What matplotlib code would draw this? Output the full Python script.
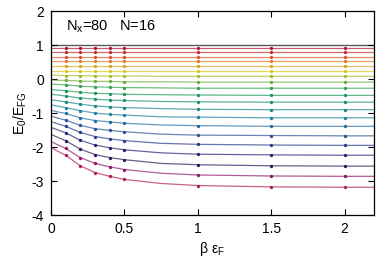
import numpy as np
import matplotlib
matplotlib.use('Agg')
import matplotlib.pyplot as plt

plt.rcParams['font.family'] = ['Liberation Sans', 'DejaVu Sans']
plt.rcParams['axes.unicode_minus'] = False

# fitted curves sampled at fit_x, one row per N_up (top to bottom)
fit_x = [0, 0.05, 0.1, 0.2, 0.3, 0.4, 0.5, 0.75, 1, 1.5, 2, 2.2]
beta = [0.1, 0.2, 0.3, 0.4, 0.5, 1, 1.5, 2]

E0 = [
    [0.90] * 12,
    [0.79] * 12,
    [0.66] * 12,
    [0.52] * 12,
    [0.38] * 12,
    [0.24] * 12,
    [0.11, 0.11, 0.10, 0.10, 0.09, 0.09, 0.09, 0.08, 0.08, 0.08, 0.08, 0.08],
    [-0.03, -0.04, -0.04, -0.06, -0.07, -0.07, -0.08, -0.08, -0.09, -0.09, -0.09, -0.09],
    [-0.15, -0.16, -0.17, -0.21, -0.23, -0.24, -0.25, -0.26, -0.27, -0.27, -0.27, -0.27],
    [-0.31, -0.33, -0.34, -0.39, -0.42, -0.43, -0.45, -0.46, -0.47, -0.48, -0.48, -0.48],
    [-0.45, -0.47, -0.50, -0.56, -0.59, -0.62, -0.63, -0.66, -0.67, -0.68, -0.68, -0.68],
    [-0.61, -0.64, -0.67, -0.74, -0.79, -0.82, -0.84, -0.87, -0.89, -0.90, -0.90, -0.90],
    [-0.76, -0.80, -0.84, -0.93, -1.00, -1.04, -1.06, -1.11, -1.12, -1.14, -1.14, -1.14],
    [-0.92, -0.97, -1.01, -1.14, -1.22, -1.26, -1.30, -1.35, -1.37, -1.39, -1.39, -1.39],
    [-1.09, -1.15, -1.21, -1.36, -1.46, -1.51, -1.55, -1.62, -1.65, -1.66, -1.67, -1.67],
    [-1.25, -1.32, -1.39, -1.57, -1.69, -1.76, -1.81, -1.89, -1.92, -1.94, -1.95, -1.95],
    [-1.42, -1.50, -1.58, -1.80, -1.94, -2.02, -2.08, -2.17, -2.21, -2.23, -2.24, -2.24],
    [-1.63, -1.72, -1.81, -2.06, -2.22, -2.31, -2.37, -2.48, -2.52, -2.55, -2.56, -2.56],
    [-1.84, -1.94, -2.04, -2.31, -2.48, -2.58, -2.66, -2.77, -2.82, -2.85, -2.86, -2.86],
    [-2.01, -2.13, -2.24, -2.55, -2.75, -2.86, -2.95, -3.07, -3.13, -3.17, -3.18, -3.18],
]

colors = ['#a81c30', '#c22e2e', '#d4542c', '#dc7e2c', '#d8a424', '#d4c820',
          '#a4bc2c', '#6cac3c', '#34a04c', '#1c9a5c', '#1a9270', '#1a8a88',
          '#1c82a0', '#226ca0', '#2a5496', '#2a3c88', '#242470', '#2c1a5c',
          '#8a1a64', '#b01c5c']

fig = plt.figure(figsize=(3.8, 2.62), dpi=100)
ax = fig.add_axes([0.134, 0.179, 0.85, 0.779])

ax.axhline(1, color='0.35', lw=1.0, zorder=1)

idx = [fit_x.index(b) for b in beta]
for row, c in zip(E0, colors):
    ax.plot(fit_x, row, color=c, lw=0.9, alpha=0.7, zorder=2)
    ax.plot(beta, [row[i] for i in idx], 'o', color=c, ms=2.4, mew=0, zorder=3)

ax.text(0.1, 1.55, r'N$_\mathregular{x}$=80   N=16', fontsize=10.5, va='center')

ax.set_xlim(0, 2.2)
ax.set_ylim(-4, 2)
ax.set_xticks([0, 0.5, 1, 1.5, 2])
ax.set_xticklabels(['0', '0.5', '1', '1.5', '2'])
ax.set_yticks([-4, -3, -2, -1, 0, 1, 2])
ax.tick_params(direction='in', top=True, right=True, length=4, width=0.8, labelsize=10, pad=5)
for s in ax.spines.values():
    s.set_linewidth(0.9)

ax.set_xlabel(r'$\mathregular{\beta\ \epsilon_F}$', fontsize=10, labelpad=3)
ax.set_ylabel(r'E$_\mathregular{0}$/E$_\mathregular{FG}$', fontsize=10, labelpad=2)

fig.savefig('out.png', dpi=100)
